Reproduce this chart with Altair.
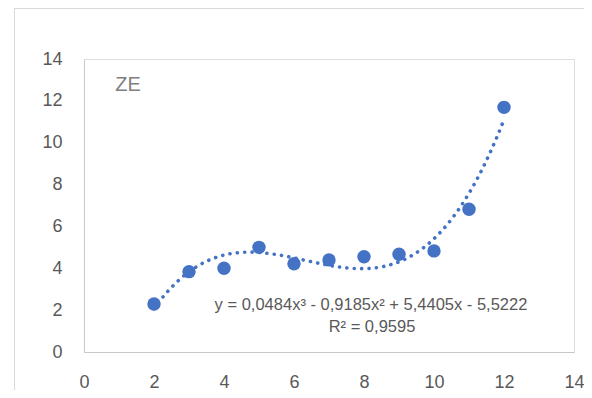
import altair as alt
import pandas as pd

x_vals = [2, 3, 4, 5, 6, 7, 8, 9, 10, 11, 12]
y_vals = [2.29, 3.84, 4.00, 5.00, 4.22, 4.40, 4.55, 4.67, 4.83, 6.82, 11.69]
axis_ticks = [0, 2, 4, 6, 8, 10, 12, 14]
series_label = "ZE"
equation_text = "y = 0,0484x\u00b3 - 0,9185x\u00b2 + 5,4405x - 5,5222"
r2_text = "R\u00b2 = 0,9595"

df = pd.DataFrame({"x": x_vals, "y": y_vals})

FONT = "Liberation Sans"
BLUE = "#4472C4"
GRAY = "#595959"

xs = alt.Scale(domain=[0, 14], nice=False, zero=False)
ys = alt.Scale(domain=[0, 14], nice=False, zero=False)

x_axis = alt.Axis(values=axis_ticks, grid=False, ticks=False, domainColor="#c8c8c8",
                  labelColor=GRAY, labelFontSize=18, labelFont=FONT, labelPadding=21,
                  title=None, labelFlush=False)
y_axis = alt.Axis(values=axis_ticks, grid=False, ticks=False, domainColor="#c8c8c8",
                  labelColor=GRAY, labelFontSize=18, labelFont=FONT, labelPadding=22,
                  title=None)

base = alt.Chart(df)

trend = base.transform_regression(
    "x", "y", method="poly", order=3, extent=[2, 12]
).mark_line(
    color=BLUE, strokeWidth=3.6, strokeDash=[0.1, 7.3], strokeCap="round"
).encode(
    x=alt.X("x:Q", scale=xs, axis=x_axis),
    y=alt.Y("y:Q", scale=ys, axis=y_axis),
)

points = base.mark_circle(size=180, color=BLUE, opacity=1).encode(
    x=alt.X("x:Q", scale=xs),
    y=alt.Y("y:Q", scale=ys),
)

label = alt.Chart(pd.DataFrame({"t": [series_label]})).mark_text(
    font=FONT, fontSize=20, color="#7f7f7f", align="center", baseline="middle"
).encode(x=alt.value(44), y=alt.value(26), text="t:N")

eq1 = alt.Chart(pd.DataFrame({"t": [equation_text]})).mark_text(
    font=FONT, fontSize=16.5, color=GRAY, align="center", baseline="middle"
).encode(x=alt.value(287), y=alt.value(246), text="t:N")

eq2 = alt.Chart(pd.DataFrame({"t": [r2_text]})).mark_text(
    font=FONT, fontSize=16.5, color=GRAY, align="center", baseline="middle"
).encode(x=alt.value(288), y=alt.value(268), text="t:N")

frame_left = alt.Chart(pd.DataFrame({"a": [0]})).mark_rule(color="#d9d9d9", strokeWidth=1).encode(
    x=alt.value(-69.5), y=alt.value(-60), y2=alt.value(360)
)
frame_top = alt.Chart(pd.DataFrame({"a": [0]})).mark_rule(color="#d9d9d9", strokeWidth=1).encode(
    x=alt.value(-70), x2=alt.value(520), y=alt.value(-50.5)
)

chart = alt.layer(frame_left, frame_top, trend, points, label, eq1, eq2).properties(
    width=490, height=293,
    autosize=alt.AutoSizeParams(type="none"),
    padding={"left": 76, "top": 51, "right": 10, "bottom": 38},
).configure_view(stroke=None).configure(background="white")

chart.save("out.html", embed_options={"renderer": "svg", "actions": False})
